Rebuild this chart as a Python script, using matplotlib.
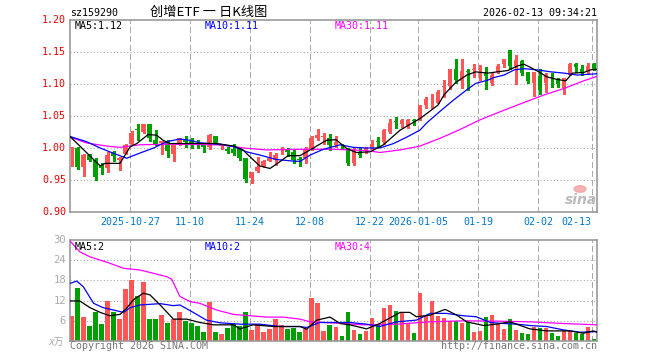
import matplotlib
matplotlib.use("Agg")
import matplotlib.pyplot as plt
import numpy as np

# daily candles, 2025-10-13 .. 2026-02-13 (88 trading days)
opens = [1.000, 1.000, 0.971, 0.989, 0.981, 0.972, 0.968, 0.994, 0.981, 0.991,
         1.007, 1.029, 1.025, 1.037, 1.013, 1.008, 1.010, 0.990, 1.006, 1.013,
         1.011, 1.008, 1.006, 1.001, 1.018, 1.003, 0.999, 0.999, 0.998, 0.984,
         0.953, 0.964, 0.972, 0.980, 0.981, 0.998, 0.997, 0.993, 0.983, 0.984,
         0.998, 1.015, 1.017, 1.015, 1.005, 1.002, 0.999, 0.976, 0.993, 0.997,
         1.001, 1.011, 1.009, 1.025, 1.042, 1.037, 1.033, 1.043, 1.045, 1.067,
         1.076, 1.070, 1.096, 1.097, 1.124, 1.105, 1.120, 1.122, 1.122, 1.118,
         1.101, 1.118, 1.131, 1.153, 1.128, 1.136, 1.118, 1.102, 1.112, 1.102,
         1.113, 1.106, 1.093, 1.114, 1.132, 1.123, 1.118, 1.131]
closes = [1.001, 0.971, 0.989, 0.981, 0.955, 0.968, 0.989, 0.987, 0.985, 1.005,
          1.024, 1.028, 1.037, 1.015, 1.006, 1.011, 0.996, 1.005, 1.015, 1.010,
          1.005, 1.006, 1.001, 1.020, 1.007, 1.004, 0.996, 0.992, 0.984, 0.951,
          0.962, 0.971, 0.979, 0.984, 0.989, 0.999, 0.993, 0.981, 0.982, 0.998,
          1.015, 1.020, 1.018, 1.005, 1.010, 1.001, 0.977, 0.998, 0.989, 0.998,
          1.007, 1.010, 1.028, 1.039, 1.041, 1.044, 1.043, 1.042, 1.067, 1.076,
          1.077, 1.088, 1.097, 1.123, 1.106, 1.121, 1.119, 1.123, 1.123, 1.113,
          1.114, 1.128, 1.139, 1.128, 1.138, 1.117, 1.104, 1.118, 1.090, 1.114,
          1.112, 1.100, 1.109, 1.132, 1.127, 1.117, 1.128, 1.123]
highs = [1.001, 1.001, 0.990, 0.990, 0.985, 0.976, 0.994, 0.996, 0.986, 1.006,
         1.027, 1.037, 1.038, 1.037, 1.028, 1.011, 1.012, 1.005, 1.016, 1.019,
         1.015, 1.013, 1.007, 1.022, 1.018, 1.006, 1.002, 1.007, 1.002, 0.984,
         0.963, 0.986, 0.982, 0.993, 0.992, 1.002, 1.000, 0.997, 0.986, 1.001,
         1.019, 1.029, 1.023, 1.022, 1.018, 1.006, 1.000, 1.000, 1.000, 1.002,
         1.012, 1.017, 1.029, 1.046, 1.048, 1.046, 1.046, 1.045, 1.067, 1.080,
         1.085, 1.091, 1.106, 1.124, 1.139, 1.139, 1.124, 1.131, 1.130, 1.126,
         1.117, 1.131, 1.139, 1.153, 1.145, 1.137, 1.118, 1.118, 1.123, 1.117,
         1.117, 1.110, 1.109, 1.133, 1.133, 1.130, 1.133, 1.133]
lows = [0.972, 0.967, 0.956, 0.979, 0.950, 0.959, 0.963, 0.980, 0.966, 0.990,
        1.006, 1.013, 1.023, 1.011, 1.005, 0.990, 0.986, 0.980, 1.005, 1.001,
        1.000, 1.000, 0.994, 0.998, 1.007, 0.999, 0.992, 0.989, 0.982, 0.947,
        0.946, 0.963, 0.970, 0.979, 0.973, 0.990, 0.987, 0.976, 0.972, 0.976,
        0.997, 1.012, 1.007, 0.997, 1.001, 0.998, 0.973, 0.973, 0.986, 0.992,
        0.999, 1.002, 1.007, 1.023, 1.032, 1.033, 1.031, 1.036, 1.043, 1.062,
        1.062, 1.070, 1.079, 1.092, 1.101, 1.093, 1.091, 1.111, 1.107, 1.092,
        1.098, 1.117, 1.127, 1.124, 1.100, 1.114, 1.102, 1.081, 1.084, 1.088,
        1.096, 1.096, 1.085, 1.114, 1.119, 1.114, 1.117, 1.122]
volumes = [7.5, 15.8, 7.2, 4.6, 8.5, 5.1, 11.9, 8.5, 6.5, 15.4,
           18.1, 13.5, 17.5, 6.5, 6.5, 7.7, 5.3, 6.5, 8.6, 5.9,
           5.3, 4.5, 2.7, 11.6, 2.7, 2.1, 3.9, 5.0, 4.5, 8.6,
           3.3, 5.0, 2.7, 3.6, 6.5, 4.8, 3.6, 3.9, 2.7, 3.7,
           12.8, 11.3, 3.0, 4.8, 4.2, 1.5, 8.6, 3.4, 2.2, 3.0,
           6.8, 4.8, 9.8, 10.7, 8.9, 8.4, 5.0, 2.5, 14.4, 7.4,
           11.9, 7.4, 6.9, 5.9, 5.9, 5.2, 5.7, 2.8, 3.1, 7.2,
           7.7, 5.0, 3.6, 6.5, 3.3, 2.3, 2.1, 4.1, 3.8, 4.0,
           2.3, 1.5, 2.9, 3.0, 2.5, 2.2, 4.1, 0.6]

# moving average lines: (candle index, value)
ma5_x = [-0.33, 4.7, 5.5, 8, 9.7, 10.8, 12.7, 14.1, 15.2, 16.3, 24, 27, 28.5,
         29.7, 31.3, 33, 34.7, 36, 38, 39.7, 42.4, 44, 45.8, 47.4, 49.7, 51.9,
         54.7, 56.9, 58, 61, 62, 63.9, 65.8, 67.3, 69.3, 70.9, 72.6, 74.2, 75.3,
         76.4, 77.8, 79.2, 80.9, 82.3, 83.4, 85.3, 86.4, 87.5]
ma5_y = [1.018, 0.972, 0.976, 0.976, 1.002, 1.007, 1.021, 1.020, 1.012, 1.007,
         1.007, 1.003, 0.997, 0.986, 0.972, 0.968, 0.979, 0.988, 0.988, 0.997,
         1.012, 1.013, 0.999, 0.993, 0.994, 1.005, 1.028, 1.040, 1.046, 1.067,
         1.083, 1.102, 1.114, 1.119, 1.117, 1.119, 1.121, 1.128, 1.131, 1.126,
         1.119, 1.111, 1.107, 1.105, 1.117, 1.118, 1.122, 1.123]
ma10_x = [-0.33, 2.4, 4.7, 6.3, 9.1, 11.3, 13.6, 15.8, 18, 19.7, 21.3, 24.7, 27,
          29.1, 31.3, 34.1, 36.3, 38, 39.7, 41.9, 44.7, 46.9, 49.1, 51.3, 53.6,
          55.8, 58, 59.1, 61.3, 63.6, 65.8, 67.3, 69.3, 70.3, 72, 73.7, 75.3,
          77.6, 79.8, 82, 84.2, 87.5]
ma10_y = [1.018, 1.010, 1.000, 0.994, 0.984, 0.992, 1.000, 1.010, 1.014, 1.012,
          1.008, 1.006, 1.002, 0.994, 0.989, 0.982, 0.980, 0.979, 0.989, 0.998,
          1.005, 1.001, 1.000, 1.000, 1.007, 1.017, 1.028, 1.039, 1.057, 1.075,
          1.091, 1.101, 1.106, 1.110, 1.114, 1.122, 1.124, 1.122, 1.119, 1.117,
          1.114, 1.116]
ma30_x = [-0.33, 2.4, 5.8, 8, 11.3, 15.8, 24.7, 28.6, 32.4, 38, 43.6, 49.1,
          51.3, 54.7, 58, 61.3, 64.7, 68, 69.3, 72, 75.3, 78.7, 82, 85.3, 87.5]
ma30_y = [1.017, 1.008, 1.003, 1.001, 1.005, 1.006, 1.005, 1.000, 0.997, 0.998,
          0.998, 0.996, 0.993, 0.997, 1.003, 1.015, 1.029, 1.044, 1.049, 1.059,
          1.071, 1.083, 1.093, 1.105, 1.112]

vma5_x = [-0.33, 1.3, 3, 4.7, 6.3, 8, 9.1, 10.2, 11.9, 13, 14.7, 16.9, 19.1,
          21.3, 23.6, 26.9, 28, 30.2, 33.6, 38, 39.1, 40.8, 43, 44.7, 46.3,
          49.1, 51.3, 54.7, 56.3, 57.4, 59.7, 62.2, 64.1, 65.8, 68.6, 70.8, 73,
          76.3, 79.1, 83, 85.2, 86.9, 87.5]
vma5_y = [11.9, 11.9, 9.9, 8.5, 7.5, 7.9, 9.7, 12.2, 14.2, 13.7, 10.7, 6.5, 6.5,
          5.5, 4.8, 4.8, 3.6, 4.8, 4.3, 4.3, 3.5, 6.2, 7.1, 5.2, 4.8,
          3.6, 5.2, 8.5, 8.5, 7.2, 7.7, 9.4, 7.7, 5.7, 4.6, 5.0, 5.7,
          3.6, 3.0, 3.0, 2.3, 3.0, 2.6]
vma10_x = [-0.33, 0.8, 1.9, 3.6, 5.2, 6.9, 8.6, 9.7, 11.3, 14.7, 16.9, 18, 20.2,
           22.4, 24.7, 28, 31.3, 34.7, 38, 39.1, 41.3, 43, 46.3, 49.1, 51.3,
           54.1, 57.4, 59.7, 62.4, 65.2, 67.4, 69.7, 71.9, 74.1, 76.3, 79.1,
           81.9, 84.7, 87.5]
vma10_y = [17.1, 17.8, 16.1, 11.2, 9.9, 9.2, 8.5, 9.9, 10.7, 11.1, 10.5, 10.7, 8.5,
           6.2, 5.4, 5.0, 5.0, 4.3, 4.3, 4.0, 5.5, 5.5, 5.5, 5.0, 4.3,
           5.7, 6.2, 8.2, 8.2, 7.5, 7.2, 5.5, 5.2, 5.0, 4.6, 4.3,
           3.3, 2.6, 2.8]
vma30_x = [-0.33, 1.3, 3, 6.3, 8.6, 11.3, 13.6, 15.8, 16.6, 18, 19.7, 21.3, 24.1,
           26.9, 29.7, 32.4, 35.2, 38, 39.7, 43, 48.6, 54.1, 59.7, 65.2, 70.8,
           76.3, 81.9, 87.5]
vma30_y = [29.7, 26.5, 25.0, 23.1, 21.6, 21.1, 20.1, 19.1, 18.4, 13.2, 11.7, 11.2,
           9.2, 7.9, 7.5, 7.1, 7.1, 6.5, 5.7, 5.4, 4.8, 5.0, 5.7, 6.0, 5.9,
           5.7, 5.2, 4.8]

tick_idx = [10, 20, 30, 40, 50, 58, 68, 78, 87]
tick_lbl = ["2025-10-27", "11-10", "11-24", "12-08", "12-22", "2026-01-05",
            "01-19", "02-02", "02-13"]
price_ticks = [1.20, 1.15, 1.10, 1.05, 1.00, 0.95, 0.90]
vol_ticks = [30, 24, 18, 12, 6]

RED = "#ff5555"
GREEN = "#00a000"
MONO = "DejaVu Sans Mono"
W, H = 660, 360


def fx(px):
    return px / W


def fy(py):
    return 1 - py / H


fig = plt.figure(figsize=(6.6, 3.6), dpi=100)
fig.patch.set_facecolor("white")

ax = fig.add_axes([fx(70), fy(212), fx(527), 192 / H])
axv = fig.add_axes([fx(70), fy(341), fx(527), 101 / H])

n = len(opens)
idx = np.arange(n)
o = np.array(opens)
c = np.array(closes)
up = c >= o
cols = np.where(up, RED, GREEN)

for a in (ax, axv):
    a.set_xlim(-0.33, 87.5)
    for s in a.spines.values():
        s.set_color("#999999")
        s.set_linewidth(1.2)
    a.set_xticks([])
    a.set_yticks([])
    for t in tick_idx:
        a.axvline(t - 0.3, color="#aaaaaa", lw=1.0, ls=(0, (4, 2.5)), zorder=0,
                  antialiased=False)

# price panel
ax.set_ylim(0.90, 1.20)
for p in price_ticks[1:-1]:
    ax.axhline(p, color="#aaaaaa", lw=0.8, ls=(0, (1, 2)), zorder=0)
ax.vlines(idx, lows, highs, colors=cols, lw=0.8, zorder=2, antialiased=False)
body_lo = np.minimum(o, c)
body_h = np.maximum(np.abs(c - o), 0.0012)
ax.bar(idx, body_h, bottom=body_lo, width=0.83, color=cols, lw=0, zorder=3,
       antialiased=False)
ax.plot(ma30_x, ma30_y, color="#ff00ff", lw=0.9, zorder=4)
ax.plot(ma10_x, ma10_y, color="#0000ff", lw=0.9, zorder=4)
ax.plot(ma5_x, ma5_y, color="black", lw=0.9, zorder=4)

for p in price_ticks:
    fig.text(fx(66), fy(20 + (1.20 - p) / 0.30 * 192), "%.2f" % p, color="#ee0000",
             family=MONO, fontsize=7.2, ha="right", va="center")
for t, lbl in zip(tick_idx, tick_lbl):
    xp = 72 + 6 * t - 2
    ha = "center"
    if t == tick_idx[-1]:
        xp, ha = 591, "right"
    fig.text(fx(xp), fy(222), lbl, color="#0077cc", family=MONO, fontsize=7.2,
             ha=ha, va="center")

fig.text(fx(75), fy(26), "MA5:1.12", color="black", family=MONO,
         fontsize=7.2, va="center")
fig.text(fx(205), fy(26), "MA10:1.11", color="#0000ff", family=MONO,
         fontsize=7.2, va="center")
fig.text(fx(335), fy(26), "MA30:1.11", color="#ff00ff", family=MONO,
         fontsize=7.2, va="center")

# volume panel
axv.set_ylim(0, 30)
for v in vol_ticks[1:]:
    axv.axhline(v, color="#aaaaaa", lw=0.8, ls=(0, (1, 2)), zorder=0)
axv.bar(idx, volumes, width=0.83, color=cols, lw=0, zorder=2, antialiased=False)
axv.plot(vma30_x, vma30_y, color="#ff00ff", lw=0.9, zorder=4)
axv.plot(vma10_x, vma10_y, color="#0000ff", lw=0.9, zorder=4)
axv.plot(vma5_x, vma5_y, color="black", lw=0.9, zorder=4)
for v in vol_ticks:
    fig.text(fx(66), fy(341 - v / 30 * 101), str(v), color="#aaaaaa",
             family=MONO, fontsize=7.6, ha="right", va="center")
fig.text(fx(64), fy(342), "x万", color="#aaaaaa", fontsize=7, ha="right",
         va="center", style="italic",
         family=["DejaVu Sans", "Noto Sans CJK SC"])
fig.text(fx(75), fy(247), "MA5:2", color="black", family=MONO, fontsize=7.2,
         va="center")
fig.text(fx(205), fy(247), "MA10:2", color="#0000ff", family=MONO,
         fontsize=7.2, va="center")
fig.text(fx(335), fy(247), "MA30:4", color="#ff00ff", family=MONO,
         fontsize=7.2, va="center")

# header / footer texts
fig.text(fx(70), fy(13), "sz159290", color="black", family=MONO, fontsize=7.2,
         va="center")
fig.text(fx(209), fy(12), "创增ETF 一 日K线图", color="black", fontsize=9.5,
         ha="center", va="center", family=["Noto Sans CJK SC", "DejaVu Sans"])
fig.text(fx(597), fy(13), "2026-02-13 09:34:21", color="black", family=MONO,
         fontsize=7.2, ha="right", va="center")
fig.text(fx(70), fy(346), "Copyright 2026 SINA.COM", color="#777777",
         family=MONO, fontsize=7.2, va="center")
fig.text(fx(597), fy(346), "http://finance.sina.com.cn", color="#777777",
         family=MONO, fontsize=7.2, ha="right", va="center")

# sina watermark
fig.text(fx(581), fy(200), "sina", color="#bbbbbb", fontsize=10,
         fontweight="bold", style="italic", ha="center", va="center")
fig.patches.append(plt.Circle((fx(580), fy(189)), 0.009, transform=fig.transFigure,
                              color="#f4a0a0", alpha=0.8, figure=fig))

fig.savefig("out.png", dpi=100)
